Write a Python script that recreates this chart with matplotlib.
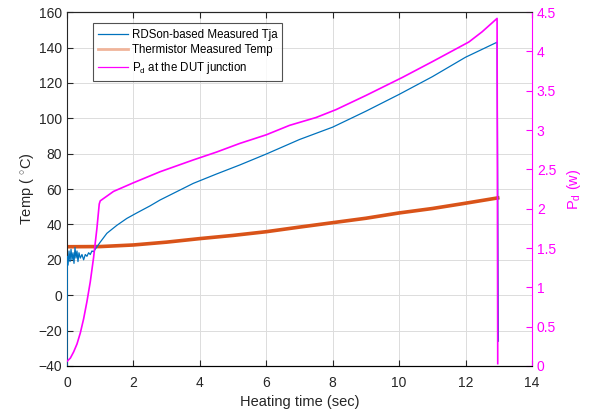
import matplotlib
matplotlib.use("Agg")
import matplotlib.pyplot as plt
from matplotlib.lines import Line2D

plt.rcParams['font.family'] = ['Liberation Sans', 'DejaVu Sans']
plt.rcParams['mathtext.fontset'] = 'custom'
plt.rcParams['mathtext.rm'] = 'Liberation Sans'
plt.rcParams['mathtext.it'] = 'Liberation Sans:italic'

# RDSon-based Tja (deg C)
blue_t = [0, 0.01, 0.03, 0.06, 0.09, 0.12, 0.15, 0.18, 0.21, 0.24, 0.27, 0.3, 0.33,
          0.36, 0.4, 0.45, 0.5, 0.55, 0.6, 0.65, 0.7, 0.75, 0.8, 0.85,
          1.0, 1.2, 1.5, 1.8, 2.1, 2.5, 2.8, 3.3, 3.8, 4.5, 5.2, 6.0, 7.0, 8.0,
          9.0, 10.0, 11.0, 12.0, 12.95, 12.99]
blue_T = [-40, 22, 17, 25, 19, 26, 20, 24, 18, 27, 21, 25, 19,
          24, 21, 23, 20, 23, 22, 24, 23, 25, 24.6, 26,
          30, 35, 39.5, 43.4, 46.5, 50.5, 53.8, 58.5, 63.2, 68.5, 73.6, 79.8, 88, 95,
          104, 113.5, 123.5, 134.5, 143, -26]

# thermistor temperature (deg C)
orange_t = [0, 1, 2, 3, 4, 5, 6, 7, 8, 9, 10, 11, 12, 12.97]
orange_T = [27.4, 27.5, 28.4, 30, 32, 33.8, 35.9, 38.5, 41, 43.5, 46.5, 49, 52, 55]

# power at DUT junction (W)
pd_t = [0, 0.1, 0.2, 0.3, 0.4, 0.5, 0.6, 0.7, 0.8, 0.9, 0.97, 1.0, 1.4, 2.0, 2.8,
        3.8, 4.5, 5.2, 6.0, 6.7, 7.5, 8.1, 9.0, 10.1, 11.0, 12.1, 12.5, 12.95, 12.97]
pd_P = [0.06, 0.1, 0.18, 0.28, 0.42, 0.6, 0.82, 1.07, 1.38, 1.75, 2.06, 2.1, 2.22, 2.33, 2.47,
        2.62, 2.72, 2.83, 2.94, 3.06, 3.16, 3.26, 3.44, 3.67, 3.87, 4.12, 4.25, 4.42, 0.03]

c_blue = '#0072BD'
c_orange = '#D95319'
c_mag = '#FF00FF'
c_ax = '#262626'

fig = plt.figure(figsize=(5.9, 4.11), dpi=100)
ax = fig.add_axes([0.1136, 0.1095, 0.788, 0.861])
ax2 = ax.twinx()

ax.plot(orange_t, orange_T, color=c_orange, lw=2.6, zorder=2)
ax.plot(blue_t, blue_T, color=c_blue, lw=0.9, zorder=3)
ax2.plot(pd_t, pd_P, color=c_mag, lw=1.2)

ax.set_xlim(0, 14)
ax.set_ylim(-40, 160)
ax2.set_ylim(0, 4.5)
ax.set_xticks(range(0, 15, 2))
ax.set_yticks(range(-40, 161, 20))
ax2.set_yticks([0, 0.5, 1, 1.5, 2, 2.5, 3, 3.5, 4, 4.5])
ax2.set_yticklabels(['0', '0.5', '1', '1.5', '2', '2.5', '3', '3.5', '4', '4.5'])

ax.grid(True, color='#DCDCDC', lw=0.7)
ax.set_axisbelow(True)
ax.tick_params(direction='in', top=True, labelsize=10, colors=c_ax, length=4)
ax.tick_params(axis='x', pad=7)
ax2.tick_params(direction='in', labelsize=10, colors=c_mag, length=4)
for s in ['left', 'bottom', 'top']:
    ax.spines[s].set_color(c_ax)
ax.spines['right'].set_visible(False)
ax2.spines['right'].set_color(c_mag)
ax2.spines['left'].set_visible(False)
ax2.spines['top'].set_color(c_ax)

ax.set_xlabel('Heating time (sec)', fontsize=10.5, color=c_ax, labelpad=4)
ax.set_ylabel('Temp ( $^{\\circ}$C)', fontsize=10.5, color=c_ax, labelpad=2)
ax2.set_ylabel('P$_\\mathrm{d}$ (w)', fontsize=10.5, color=c_mag, rotation=90, labelpad=6)

handles = [Line2D([], [], color=c_blue, lw=0.9),
           Line2D([], [], color='#F0B49A', lw=2),
           Line2D([], [], color=c_mag, lw=0.9)]
labels = ['RDSon-based Measured Tja', 'Thermistor Measured Temp', 'P$_\\mathrm{d}$ at the DUT junction']
leg = ax2.legend(handles, labels, loc='upper left', bbox_to_anchor=(0.056, 0.968),
                 borderaxespad=0, fontsize=8.3, frameon=True, fancybox=False,
                 edgecolor=c_ax, handlelength=2.6, borderpad=0.45, labelspacing=0.3,
                 handletextpad=0.3)
leg.get_frame().set_linewidth(0.8)

fig.savefig('out.png', dpi=100)
